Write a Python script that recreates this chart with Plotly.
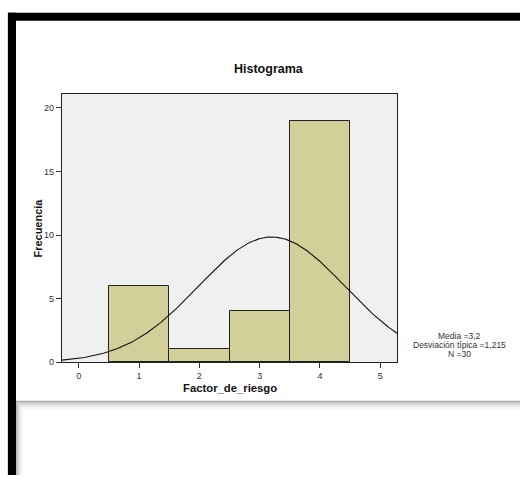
import numpy as np
import plotly.graph_objects as go

# ---- data ----
categories = [1, 2, 3, 4]
frequencies = [6, 1, 4, 19]
x_ticks = [0, 1, 2, 3, 4, 5]
y_ticks = [0, 5, 10, 15, 20]
mean_val = 3.2
std_val = 1.215
n_val = 30
bin_width = 1
stats_lines = ["Media =3,2", "Desviación típica =1,215", "N =30"]

W, H = 520, 480
def px(x):
    return x / W
def py(y):
    return 1 - y / H

x_range = [-0.28, 5.28]
y_range = [0, 21.1]

# normal curve from stated mean / sd / N
xc = np.linspace(x_range[0], x_range[1], 300)
yc = n_val * bin_width / (std_val * np.sqrt(2 * np.pi)) * np.exp(-0.5 * ((xc - mean_val) / std_val) ** 2)

fig = go.Figure()
fig.add_trace(go.Bar(
    x=categories, y=frequencies, width=1,
    marker=dict(color="#D3CF98", line=dict(color="#222222", width=1)),
    hoverinfo="skip", showlegend=False,
))
fig.add_trace(go.Scatter(
    x=xc, y=yc, mode="lines", line=dict(color="#111111", width=1.1),
    hoverinfo="skip", showlegend=False,
))

font_family = "Liberation Sans, Arial, sans-serif"

fig.update_layout(
    width=W, height=H,
    margin=dict(l=0, r=0, t=0, b=0),
    paper_bgcolor="white",
    plot_bgcolor="#F0F0F0",
    font=dict(family=font_family, color="#222222"),
    bargap=0,
    xaxis=dict(
        domain=[px(62), px(397)], range=x_range,
        tickmode="array", tickvals=x_ticks, ticktext=[str(v) for v in x_ticks],
        ticks="outside", ticklen=5, tickwidth=1, tickcolor="#333333",
        tickfont=dict(size=9, color="#333333"),
        showline=True, linecolor="#222222", linewidth=1.4, mirror=True,
        showgrid=False, zeroline=False, fixedrange=True,
    ),
    yaxis=dict(
        domain=[py(366), py(95)], range=y_range,
        tickmode="array", tickvals=y_ticks, ticktext=[str(v) for v in y_ticks],
        ticks="outside", ticklen=5, tickwidth=1, tickcolor="#333333",
        tickfont=dict(size=9, color="#333333"),
        showline=True, linecolor="#222222", linewidth=1.4, mirror=True,
        showgrid=False, zeroline=False, fixedrange=True,
    ),
)

shapes = []
# black frame (top and left)
shapes.append(dict(type="rect", xref="paper", yref="paper",
                   x0=px(8), x1=px(520), y0=py(21), y1=py(13),
                   fillcolor="black", line=dict(width=0), layer="above"))
shapes.append(dict(type="rect", xref="paper", yref="paper",
                   x0=px(8), x1=px(16), y0=py(480), y1=py(13),
                   fillcolor="black", line=dict(width=0), layer="above"))
# faint line left of frame
shapes.append(dict(type="rect", xref="paper", yref="paper",
                   x0=px(7), x1=px(8), y0=py(480), y1=py(13),
                   fillcolor="#DDDDDD", line=dict(width=0), layer="above"))
# shadow below the chart panel
grays = ["#9A9A9A", "#AFAFAF", "#C2C2C2", "#D2D2D2", "#DEDEDE", "#E8E8E8", "#F0F0F0", "#F6F6F6", "#FBFBFB"]
for i, g in enumerate(grays):
    shapes.append(dict(type="rect", xref="paper", yref="paper",
                       x0=px(16), x1=px(520), y0=py(406 + i), y1=py(405 + i),
                       fillcolor=g, line=dict(width=0), layer="above"))
# left shadow of lower panel
lgrays = ["#B5B5B5", "#C8C8C8", "#D8D8D8", "#E4E4E4", "#EDEDED", "#F4F4F4", "#F9F9F9"]
for i, g in enumerate(lgrays):
    shapes.append(dict(type="rect", xref="paper", yref="paper",
                       x0=px(16 + i), x1=px(17 + i), y0=py(480), y1=py(407 + i),
                       fillcolor=g, line=dict(width=0), layer="above"))
fig.update_layout(shapes=shapes)

annotations = [
    dict(text="<b>Histograma</b>", x=px(269), y=py(70), xref="paper", yref="paper",
         showarrow=False, xanchor="center", yanchor="middle",
         font=dict(size=12.5, color="#111111")),
    dict(text="<b>Factor_de_riesgo</b>", x=px(230), y=py(392), xref="paper", yref="paper",
         showarrow=False, xanchor="center", yanchor="middle",
         font=dict(size=11.3, color="#111111")),
    dict(text="<b>Frecuencia</b>", x=px(38), y=py(231), xref="paper", yref="paper",
         showarrow=False, xanchor="center", yanchor="middle", textangle=-90,
         font=dict(size=11, color="#111111")),
]
for i, line in enumerate(stats_lines):
    annotations.append(dict(text=line, x=px(459), y=py(340 + 9 * i), xref="paper", yref="paper",
                            showarrow=False, xanchor="center", yanchor="middle",
                            font=dict(size=8.5, color="#333333")))
fig.update_layout(annotations=annotations)

fig.write_html("out.html", config={"displayModeBar": False},
               post_script="document.body.style.margin='0';document.body.style.overflow='hidden';")
